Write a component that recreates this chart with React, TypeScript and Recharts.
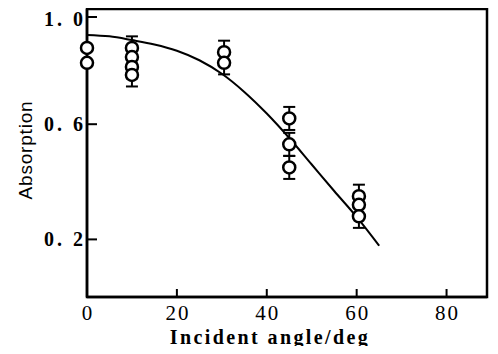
import React from "react";
import {
  ScatterChart,
  Scatter,
  XAxis,
  YAxis,
  ErrorBar,
  ReferenceArea,
} from "recharts";

// fitted curve
const curveAngle = [0, 5, 10, 15, 20, 25, 30, 35, 40, 45, 50, 55, 60, 65];
const curveAbs = [
  0.91, 0.905, 0.892, 0.877, 0.855, 0.822, 0.775, 0.712, 0.637, 0.552, 0.46,
  0.368, 0.278, 0.178,
];

// measured points
const pointAngle = [0, 0, 10, 10, 10, 10, 30.5, 30.5, 45, 45, 45, 60.5, 60.5, 60.5];
const pointAbs = [
  0.865, 0.813, 0.865, 0.833, 0.799, 0.771, 0.85, 0.813, 0.62, 0.53, 0.45, 0.35,
  0.32, 0.28,
];
const pointErr = [0, 0, 0.04, 0.04, 0.04, 0.04, 0.04, 0.04, 0.04, 0.04, 0.04, 0.04, 0.04, 0.04];

const xTicks = [0, 20, 40, 60, 80];
const yTicks = [0.2, 0.6, 1.0];

const curveData = curveAngle.map((x, i) => ({ x, y: curveAbs[i] }));
const pointData = pointAngle.map((x, i) => ({ x, y: pointAbs[i], err: pointErr[i] }));

const serif = "'Liberation Serif', 'DejaVu Serif', serif";

const XTick = (props: any) => {
  const { x, y, payload } = props;
  return (
    <g>
      {payload.value !== 0 && (
        <line x1={x} x2={x} y1={y} y2={y - 8} stroke="#000" strokeWidth={2} />
      )}
      <text
        x={x + 1}
        y={y + 23}
        textAnchor="middle"
        fontFamily={serif}
        fontSize={21}
        letterSpacing={2}
        fill="#000"
      >
        {payload.value}
      </text>
    </g>
  );
};

const YTick = (props: any) => {
  const { x, y, payload } = props;
  return (
    <g>
      <line x1={x} x2={x + 10} y1={y} y2={y} stroke="#000" strokeWidth={2} />
      <text
        x={x - 1}
        y={Math.max(y + 7, 18)}
        textAnchor="end"
        fontFamily={serif}
        fontSize={20}
        fontWeight="bold"
        letterSpacing={3}
        fill="#000"
      >
        {payload.value.toFixed(1).replace(".", ". ")}
      </text>
    </g>
  );
};

const Ring = (props: any) => (
  <circle cx={props.cx} cy={props.cy} r={6} fill="#fff" stroke="#000" strokeWidth={2.5} />
);

const App = () => {
  return (
    <div style={{ marginBottom: -8 }}>
      <ScatterChart
        width={482}
        height={346}
        margin={{ top: 1, right: 3, left: 0, bottom: 8 }}
      >
        <XAxis
          type="number"
          dataKey="x"
          domain={[0, 89]}
          ticks={xTicks}
          height={49}
          tickSize={0}
          tickMargin={0}
          tick={<XTick />}
          axisLine={{ stroke: "#000", strokeWidth: 2.5 }}
          label={{
            value: "Incident angle/deg",
            position: "center",
            dx: -17,
            dy: 15,
            fontFamily: serif,
            fontSize: 20,
            fontWeight: "bold",
            letterSpacing: 2.4,
            fill: "#000",
          }}
        />
        <YAxis
          type="number"
          dataKey="y"
          domain={[0, 1]}
          ticks={yTicks}
          width={79}
          tickSize={0}
          tickMargin={0}
          tick={<YTick />}
          axisLine={{ stroke: "#000", strokeWidth: 2.5 }}
          label={{
            value: "Absorption",
            angle: -90,
            position: "center",
            dx: -22,
            dy: -3,
            fontFamily: "'Liberation Sans', Arial, sans-serif",
            fontSize: 19,
            letterSpacing: 0.8,
            fill: "#000",
          }}
        />
        <ReferenceArea
          x1={0}
          x2={89}
          y1={0}
          y2={1}
          fill="none"
          stroke="#000"
          strokeWidth={2.5}
          ifOverflow="visible"
        />
        <Scatter
          data={curveData}
          line={{ stroke: "#000", strokeWidth: 2 }}
          lineJointType="monotone"
          shape={() => <g />}
          isAnimationActive={false}
        />
        <Scatter data={pointData} shape={<Ring />} isAnimationActive={false}>
          <ErrorBar dataKey="err" direction="y" width={6} stroke="#000" strokeWidth={2} />
        </Scatter>
      </ScatterChart>
    </div>
  );
};

export default App;
